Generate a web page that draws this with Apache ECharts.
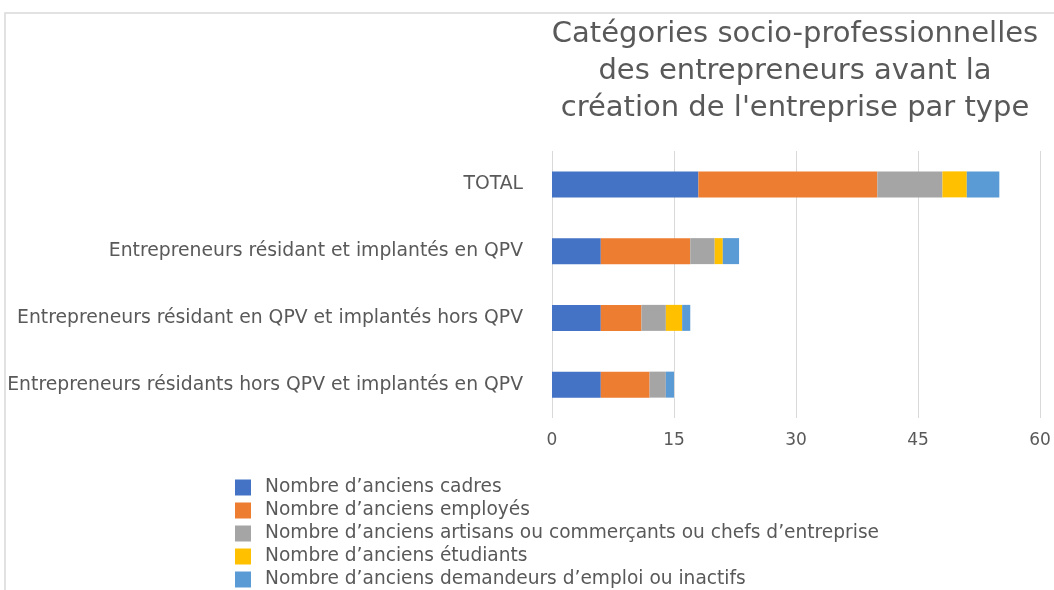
<!DOCTYPE html>
<html>
<head>
<meta charset="utf-8">
<script src="https://cdn.jsdelivr.net/npm/echarts@6/dist/echarts.min.js"></script>
<style>
html,body{margin:0;padding:0;background:#fff;}
#chart{width:1054px;height:590px;}
</style>
</head>
<body>
<div id="chart"></div>
<script>
// catégories (de haut en bas)
var categories = [
	'TOTAL',
	'Entrepreneurs résidant et implantés en QPV',
	'Entrepreneurs résidant en QPV et implantés hors QPV',
	'Entrepreneurs résidants hors QPV et implantés en QPV'
];
var seriesNames = [
	'Nombre d\u2019anciens cadres',
	'Nombre d\u2019anciens employés',
	'Nombre d\u2019anciens artisans ou commerçants ou chefs d\u2019entreprise',
	'Nombre d\u2019anciens étudiants',
	'Nombre d\u2019anciens demandeurs d\u2019emploi ou inactifs'
];
var cadres = [18, 6, 6, 6];
var employes = [22, 11, 5, 6];
var artisans = [8, 3, 3, 2];
var etudiants = [3, 1, 2, 0];
var demandeurs = [4, 2, 1, 1];
var xTicks = [0, 15, 30, 45, 60];

var colors = ['#4472C4', '#ED7D31', '#A5A5A5', '#FFC000', '#5B9BD5'];
var font = '"DejaVu Sans"';

var myChart = echarts.init(document.getElementById('chart'));
var dataList = [cadres, employes, artisans, etudiants, demandeurs];
var series = [];
for (var i = 0; i < seriesNames.length; i++) {
	series.push({
		name: seriesNames[i],
		type: 'bar',
		stack: 'total',
		barWidth: 26,
		data: dataList[i],
		itemStyle: {color: colors[i]}
	});
}
var option = {
	color: colors,
	animation: false,
	title: {
		text: 'Catégories socio-professionnelles\ndes entrepreneurs avant la\ncréation de l\'entreprise par type',
		left: 790,
		top: 11,
		textAlign: 'center',
		textStyle: {
			color: '#595959',
			fontFamily: font,
			fontSize: 29,
			fontWeight: 'normal',
			lineHeight: 37
		}
	},
	legend: {
		orient: 'vertical',
		left: 235,
		top: 478,
		height: 200,
		padding: 0,
		itemWidth: 16,
		itemHeight: 16,
		itemGap: 4,
		icon: 'rect',
		textStyle: {color: '#595959', fontFamily: font, fontSize: 18.6, lineHeight: 19, padding: [0, 0, 0, 9]}
	},
	grid: {
		left: 552,
		right: 14,
		top: 151,
		bottom: 172
	},
	xAxis: {
		type: 'value',
		min: xTicks[0],
		max: xTicks[xTicks.length - 1],
		interval: 15,
		axisLine: {show: false},
		axisTick: {show: false},
		splitLine: {lineStyle: {color: '#D9D9D9', width: 1}},
		axisLabel: {color: '#595959', fontFamily: font, fontSize: 17, margin: 14}
	},
	yAxis: {
		type: 'category',
		inverse: true,
		data: categories,
		axisLine: {show: false},
		axisTick: {show: false},
		axisLabel: {color: '#595959', fontFamily: font, fontSize: 18.8, margin: 29}
	},
	graphic: [{
		type: 'polyline',
		shape: {points: [[5, 590], [5, 13], [1054, 13]]},
		style: {stroke: '#D9D9D9', lineWidth: 1.5, fill: null},
		silent: true
	}],
	series: series
};
myChart.setOption(option);
</script>
</body>
</html>
